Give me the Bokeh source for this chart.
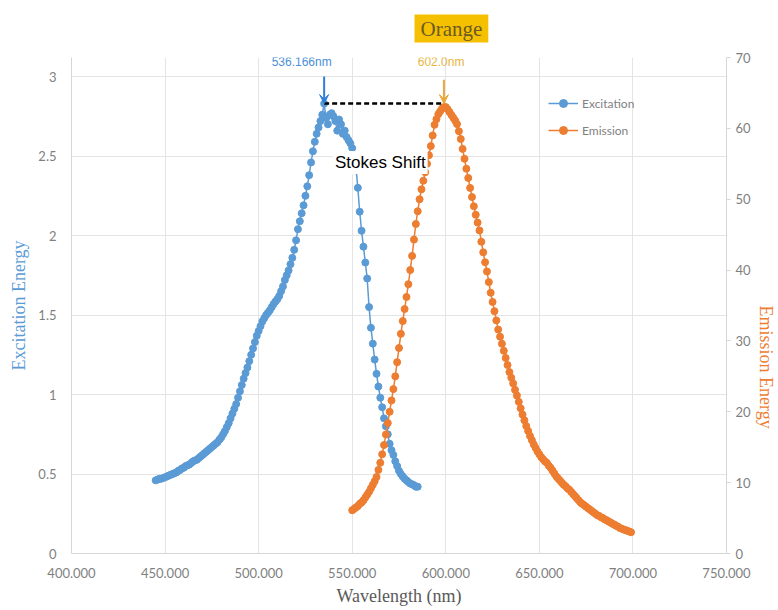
from bokeh.plotting import figure
from bokeh.models import (Range1d, LinearAxis, FixedTicker, Label, Arrow, VeeHead,
                          Legend, LegendItem)
from bokeh.embed import file_html
from bokeh.resources import INLINE

# ---------------- data ----------------
ex_start_nm = 445
excitation = [
    0.46, 0.465, 0.47, 0.47, 0.475, 0.48, 0.485, 0.49, 0.495, 0.50,
    0.505, 0.51, 0.52, 0.525, 0.535, 0.54, 0.55, 0.555, 0.56, 0.57,
    0.58, 0.585, 0.59, 0.60, 0.61, 0.62, 0.63, 0.64, 0.65, 0.66,
    0.67, 0.68, 0.69, 0.70, 0.715, 0.73, 0.75, 0.77, 0.795, 0.82,
    0.85, 0.88, 0.91, 0.94, 0.98, 1.02, 1.06, 1.10, 1.135, 1.17,
    1.21, 1.25, 1.29, 1.33, 1.37, 1.40, 1.43, 1.46, 1.48, 1.50,
    1.515, 1.53, 1.55, 1.57, 1.585, 1.60, 1.62, 1.65, 1.68, 1.72,
    1.75, 1.78, 1.82, 1.86, 1.91, 1.97, 2.04, 2.09, 2.14, 2.19,
    2.25, 2.31, 2.38, 2.46, 2.53, 2.59, 2.64, 2.68, 2.72, 2.76,
    2.83, 2.74, 2.70, 2.76, 2.77, 2.75, 2.72, 2.66, 2.73, 2.70,
    2.64, 2.66, 2.62, 2.60, 2.58, 2.55, 2.50, 2.43, 2.30, 2.15,
    2.03, 1.93, 1.83, 1.73, 1.55, 1.42, 1.32, 1.22, 1.13, 1.05,
    0.98, 0.92, 0.85, 0.80, 0.75, 0.69, 0.65, 0.62, 0.58, 0.55,
    0.52, 0.50, 0.485, 0.47, 0.46, 0.45, 0.44, 0.435, 0.43, 0.42, 0.42,
]
em_start_nm = 550
emission = [
    6.1, 6.3, 6.5, 6.7, 7.0, 7.2, 7.5, 7.9, 8.3, 8.7,
    9.2, 9.7, 10.2, 10.8, 11.8, 12.8, 14.0, 15.3, 16.8, 18.4,
    20.0, 21.6, 23.2, 25.0, 27.0, 29.0, 31.0, 32.8, 34.5, 36.2,
    38.0, 40.0, 42.0, 44.3, 46.5, 48.3, 50.0, 51.4, 52.6, 53.8,
    55.0, 56.2, 57.5, 59.0, 60.5, 61.3, 62.0, 62.4, 62.8, 63.0,
    63.0, 62.7, 62.3, 61.9, 61.5, 61.1, 60.6, 59.6, 58.5, 57.1,
    55.7, 54.3, 53.0, 51.6, 50.3, 49.0, 47.8, 46.7, 45.6, 44.0,
    42.5, 41.1, 39.8, 38.3, 36.8, 35.5, 34.2, 32.9, 31.6, 30.6,
    29.6, 28.6, 27.6, 26.6, 25.6, 24.8, 24.0, 23.1, 22.3, 21.4,
    20.5, 19.6, 18.8, 18.0, 17.3, 16.6, 16.0, 15.4, 14.9, 14.4,
    14.0, 13.6, 13.3, 13.0, 12.8, 12.4, 12.1, 11.7, 11.3, 10.9,
    10.6, 10.3, 10.0, 9.7, 9.5, 9.2, 9.0, 8.7, 8.4, 8.1,
    7.8, 7.5, 7.2, 7.0, 6.8, 6.6, 6.4, 6.2, 6.0, 5.8,
    5.6, 5.4, 5.3, 5.1, 5.0, 4.8, 4.7, 4.5, 4.4, 4.2,
    4.1, 3.9, 3.8, 3.6, 3.5, 3.4, 3.3, 3.2, 3.1, 3.0,
]
ex_nm = list(range(ex_start_nm, ex_start_nm + len(excitation)))
em_nm = list(range(em_start_nm, em_start_nm + len(emission)))

x_ticks = [400, 450, 500, 550, 600, 650, 700, 750]
x_tick_labels = ["400.000", "450.000", "500.000", "550.000",
                 "600.000", "650.000", "700.000", "750.000"]
ex_ticks = [0, 0.5, 1, 1.5, 2, 2.5, 3]
ex_tick_labels = ["0", "0.5", "1", "1.5", "2", "2.5", "3"]
em_ticks = [0, 10, 20, 30, 40, 50, 60, 70]
peak_labels = ["536.166nm", "602.0nm"]
series_names = ["Excitation", "Emission"]

BLUE = "#5B9BD5"
ORANGE = "#ED7D31"

# ---------------- figure ----------------
p = figure(frame_width=655, frame_height=496,
           x_range=Range1d(400, 750), y_range=Range1d(0, 3.12),
           output_backend="svg", toolbar_location=None,
           min_border_left=71, min_border_right=10, min_border_top=57, min_border_bottom=10)
p.extra_y_ranges = {"em": Range1d(0, 70)}
p.outline_line_color = None
p.border_fill_color = "white"

# title box
p.title.text = "Orange"
p.title.align = "left"
p.title.vertical_align = "top"
p.title.offset = 343
p.title.standoff = 26
p.title.text_font = "Liberation Serif"
p.title.text_font_style = "normal"
p.title.text_font_size = "21px"
p.title.text_color = "#6B5A22"
p.title.background_fill_color = "#F5C000"
p.title.padding = (6, 2)

grid_c = "#e4e4e4"
axis_c = "#d6d6d6"
tick_c = "#7f7f7f"

p.xgrid.ticker = FixedTicker(ticks=x_ticks)
p.ygrid.ticker = FixedTicker(ticks=ex_ticks)
p.xgrid.grid_line_color = grid_c
p.ygrid.grid_line_color = grid_c

xa = p.xaxis[0]
xa.ticker = FixedTicker(ticks=x_ticks)
xa.major_label_overrides = dict(zip(x_ticks, x_tick_labels))
xa.axis_label = "Wavelength (nm)"

ya = p.yaxis[0]
ya.ticker = FixedTicker(ticks=ex_ticks)
ya.major_label_overrides = dict(zip(ex_ticks, ex_tick_labels))
ya.axis_label = "Excitation Energy"

ra = LinearAxis(y_range_name="em", ticker=FixedTicker(ticks=em_ticks),
                axis_label="Emission Energy")
p.add_layout(ra, "right")

for ax in (xa, ya, ra):
    ax.axis_line_color = axis_c
    ax.major_tick_line_color = None
    ax.minor_tick_line_color = None
    ax.major_label_text_font = "Lato"
    ax.major_label_text_font_size = "13px"
    ax.major_label_text_color = tick_c
    ax.axis_label_text_font = "Liberation Serif"
    ax.axis_label_text_font_style = "normal"
    ax.axis_label_text_font_size = "18px"

ra.major_tick_line_color = axis_c
ra.major_tick_out = 4
ra.major_tick_in = 0
ra.major_label_standoff = 5
ra.axis_label_standoff = 12
ra.axis_label_text_color = ORANGE
ra.axis_label_orientation = -1.5707963

xa.major_label_standoff = 8
xa.axis_label_standoff = 5
xa.axis_label_text_color = "#595959"

ya.major_label_standoff = 9
ya.axis_label_standoff = 6
ya.axis_label_text_color = BLUE

# ---------------- series ----------------
l1 = p.line(ex_nm, excitation, line_color=BLUE, line_width=1.5)
s1 = p.scatter(ex_nm, excitation, size=7, fill_color=BLUE, line_color=BLUE)
l2 = p.line(em_nm, emission, line_color=ORANGE, line_width=1.5, y_range_name="em")
s2 = p.scatter(em_nm, emission, size=7, fill_color=ORANGE, line_color=ORANGE,
               y_range_name="em")

legend = Legend(items=[LegendItem(label=series_names[0], renderers=[l1, s1]),
                       LegendItem(label=series_names[1], renderers=[l2, s2])],
                location=(477, 413), padding=0, margin=0, spacing=7,
                glyph_width=30, glyph_height=20, label_height=20, label_standoff=4,
                label_text_font="Lato", label_text_font_size="12px",
                label_text_color="#7f7f7f",
                border_line_color=None, background_fill_alpha=0)
p.add_layout(legend)

# ---------------- annotations ----------------
ex_peak_nm = ex_nm[excitation.index(max(excitation))]
em_peak_nm = em_nm[emission.index(max(emission))]
line_y = max(excitation)

p.segment(x0=[ex_peak_nm], y0=[line_y], x1=[em_peak_nm], y1=[line_y],
          line_color="black", line_width=2.5, line_dash="5 3")

p.add_layout(Arrow(end=VeeHead(size=9, fill_color="#2f7fd8", line_color="#2f7fd8"),
                   x_start=ex_peak_nm, y_start=line_y + 0.17, x_end=ex_peak_nm, y_end=line_y,
                   line_color="#2f7fd8", line_width=2))
p.add_layout(Arrow(end=VeeHead(size=9, fill_color="#E8A838", line_color="#E8A838"),
                   x_start=em_peak_nm, y_start=line_y + 0.15, x_end=em_peak_nm, y_end=line_y,
                   line_color="#E8A838", line_width=2))

p.add_layout(Label(x=ex_peak_nm - 12, y=line_y + 0.26, text=peak_labels[0],
                   text_align="center", text_baseline="middle",
                   text_font="Liberation Sans", text_font_size="12px", text_color="#4A8FD6"))
p.add_layout(Label(x=em_peak_nm - 1.5, y=line_y + 0.26, text=peak_labels[1],
                   text_align="center", text_baseline="middle",
                   text_font="Liberation Sans", text_font_size="12px", text_color="#E8B442"))

p.add_layout(Label(x=565.0, y=2.459, text="Stokes Shift",
                   text_align="center", text_baseline="middle",
                   text_font="Liberation Sans", text_font_size="17px", text_color="black",
                   background_fill_color="white", padding=2))

open("out.html", "w").write(file_html(p, INLINE))
